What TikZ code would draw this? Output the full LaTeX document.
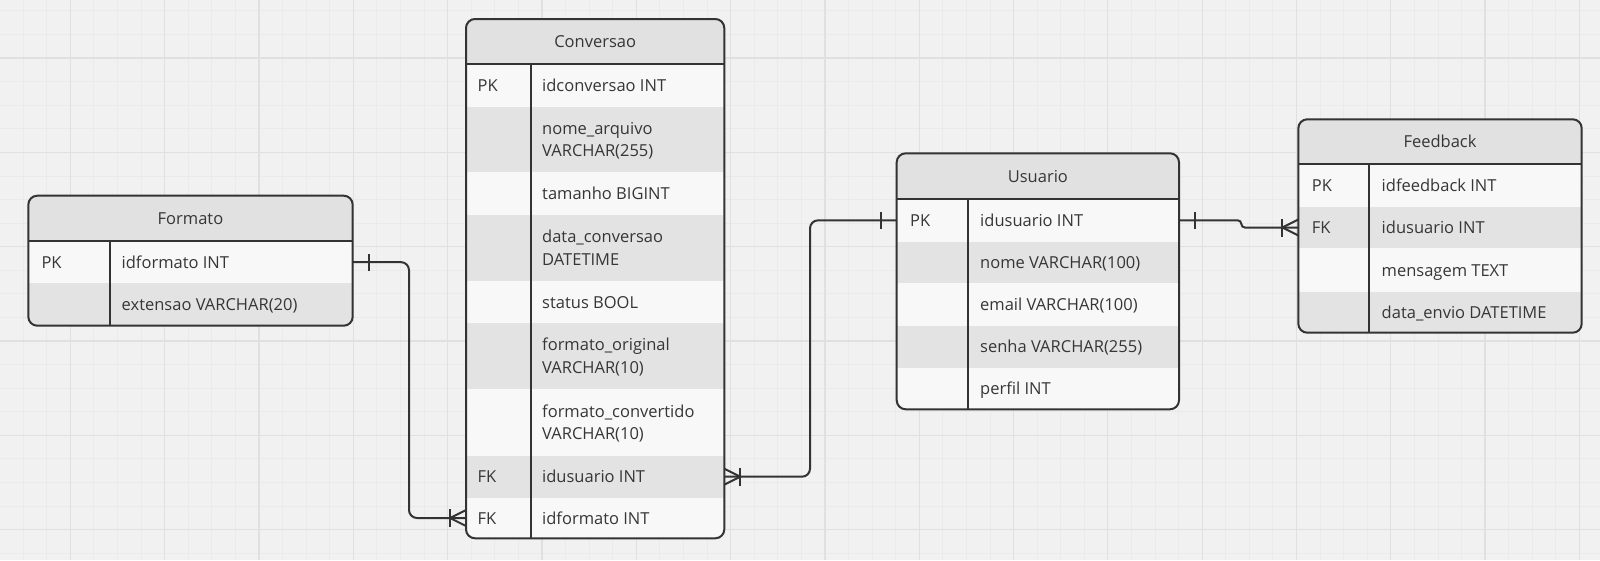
\documentclass[tikz,border=0pt]{standalone}
\usepackage{fontspec}
\setmainfont{Open Sans}
\usetikzlibrary{calc}
\definecolor{bg}{HTML}{F1F1F1}
\definecolor{gminor}{HTML}{EAEAEA}
\definecolor{gmajor}{HTML}{E0E0E0}
\definecolor{hdr}{HTML}{E1E1E1}
\definecolor{shade}{HTML}{E3E3E3}
\definecolor{rwhite}{HTML}{F8F8F8}
\definecolor{edge}{HTML}{333333}
\definecolor{ink}{HTML}{363636}
\tikzset{
  rowbox/.style={rectangle,draw=none,inner sep=0pt,outer sep=0pt,anchor=north west},
  txt/.style={anchor=west,inner sep=0pt,text height=12pt,text depth=0pt,font=\fontsize{16.5}{20}\selectfont,text=ink},
  ttl/.style={anchor=center,inner sep=0pt,text height=12pt,text depth=0pt,font=\fontsize{16.5}{20}\selectfont,text=ink},
  tline/.style={draw=edge,line width=2pt},
  tborder/.style={draw=edge,line width=2pt,rounded corners=9pt},
  conn/.style={draw=edge,line width=2pt},
  minorg/.style={draw=gminor,line width=0.8pt},
  majorg/.style={draw=gmajor,line width=1.3pt}
}
\newcommand\erow[6]{\node[rowbox,fill=#6,minimum width={#4-(#2)},minimum height={#5-(#3)}] (#1) at (#2,#3) {};}
\newcommand\etxt[4]{\node[txt] (#1) at (#2,#3) {#4};}
\begin{document}
\begin{tikzpicture}[x=1pt,y=-1pt]
\useasboundingbox (0,0) rectangle (1600,560);
\fill[bg] (0,0) rectangle (1600,560);
% grid
\foreach \i in {0,...,67} \draw[minorg] ({23.14+23.58*\i},0) -- ++(0,560);
\foreach \i in {0,...,23} \draw[minorg] (0,{10.84+23.58*\i}) -- ++(1600,0);
\foreach \i in {0,...,16} \draw[majorg] ({70.3+94.32*\i},0) -- ++(0,560);
\foreach \i in {0,...,5} \draw[majorg] (0,{58+94.32*\i}) -- ++(1600,0);

% ---------------- Formato ----------------
\begin{scope}
\clip[rounded corners=9pt] (28.3,195.7) rectangle (352.7,325.7);
\erow{fmt-h}{28.3}{195.7}{352.7}{241}{hdr}
\erow{fmt-r1}{28.3}{241}{352.7}{283.3}{rwhite}
\erow{fmt-r2}{28.3}{283.3}{352.7}{325.7}{shade}
\end{scope}
\draw[tline] (fmt-h.south west) -- (fmt-h.south east);
\draw[tline] (110,241) -- (110,325.7);
\draw[tborder] (28.3,195.7) rectangle (352.7,325.7);
\node[ttl] (fmt-t) at (fmt-h.center) {Formato};
\etxt{fmt-k1}{41.3}{262.15}{PK}
\etxt{fmt-f1}{121.5}{262.15}{idformato INT}
\etxt{fmt-f2}{121.5}{304.5}{extensao VARCHAR(20)}

% ---------------- Conversao ----------------
\begin{scope}
\clip[rounded corners=9pt] (466,19) rectangle (724.3,538.3);
\erow{conv-h}{466}{19}{724.3}{64}{hdr}
\erow{conv-r1}{466}{64}{724.3}{106.7}{rwhite}
\erow{conv-r2}{466}{106.7}{724.3}{172.3}{shade}
\erow{conv-r3}{466}{172.3}{724.3}{215}{rwhite}
\erow{conv-r4}{466}{215}{724.3}{280.7}{shade}
\erow{conv-r5}{466}{280.7}{724.3}{323.3}{rwhite}
\erow{conv-r6}{466}{323.3}{724.3}{389}{shade}
\erow{conv-r7}{466}{389}{724.3}{455.7}{rwhite}
\erow{conv-r8}{466}{455.7}{724.3}{497.7}{shade}
\erow{conv-r9}{466}{497.7}{724.3}{538.3}{rwhite}
\end{scope}
\draw[tline] (conv-h.south west) -- (conv-h.south east);
\draw[tline] (530.5,64) -- (530.5,538.3);
\draw[tborder] (466,19) rectangle (724.3,538.3);
\node[ttl] (conv-t) at (conv-h.center) {Conversao};
\etxt{conv-k1}{477.5}{85.35}{PK}
\etxt{conv-f1}{542}{85.35}{idconversao INT}
\etxt{conv-f2a}{542}{128.3}{nome\_arquivo}
\etxt{conv-f2b}{542}{150.7}{VARCHAR(255)}
\etxt{conv-f3}{542}{193.65}{tamanho BIGINT}
\etxt{conv-f4a}{542}{236.65}{data\_conversao}
\etxt{conv-f4b}{542}{259.05}{DATETIME}
\etxt{conv-f5}{542}{302}{status BOOL}
\etxt{conv-f6a}{542}{344.95}{formato\_original}
\etxt{conv-f6b}{542}{367.35}{VARCHAR(10)}
\etxt{conv-f7a}{542}{411.15}{formato\_convertido}
\etxt{conv-f7b}{542}{433.55}{VARCHAR(10)}
\etxt{conv-k8}{477.5}{476.7}{FK}
\etxt{conv-f8}{542}{476.7}{idusuario INT}
\etxt{conv-k9}{477.5}{518}{FK}
\etxt{conv-f9}{542}{518}{idformato INT}

% ---------------- Usuario ----------------
\begin{scope}
\clip[rounded corners=9pt] (896.7,153.3) rectangle (1179,409.3);
\erow{usr-h}{896.7}{153.3}{1179}{199}{hdr}
\erow{usr-r1}{896.7}{199}{1179}{241.7}{rwhite}
\erow{usr-r2}{896.7}{241.7}{1179}{283.3}{shade}
\erow{usr-r3}{896.7}{283.3}{1179}{326}{rwhite}
\erow{usr-r4}{896.7}{326}{1179}{367.7}{shade}
\erow{usr-r5}{896.7}{367.7}{1179}{409.3}{rwhite}
\end{scope}
\draw[tline] (usr-h.south west) -- (usr-h.south east);
\draw[tline] (968.3,199) -- (968.3,409.3);
\draw[tborder] (896.7,153.3) rectangle (1179,409.3);
\node[ttl] (usr-t) at (usr-h.center) {Usuario};
\etxt{usr-k1}{910}{220.35}{PK}
\etxt{usr-f1}{980}{220.35}{idusuario INT}
\etxt{usr-f2}{980}{262.5}{nome VARCHAR(100)}
\etxt{usr-f3}{980}{304.65}{email VARCHAR(100)}
\etxt{usr-f4}{980}{346.85}{senha VARCHAR(255)}
\etxt{usr-f5}{980}{388.5}{perfil INT}

% ---------------- Feedback ----------------
\begin{scope}
\clip[rounded corners=9pt] (1298.3,119.3) rectangle (1581.7,332.7);
\erow{fb-h}{1298.3}{119.3}{1581.7}{164}{hdr}
\erow{fb-r1}{1298.3}{164}{1581.7}{206.7}{rwhite}
\erow{fb-r2}{1298.3}{206.7}{1581.7}{248.3}{shade}
\erow{fb-r3}{1298.3}{248.3}{1581.7}{291.7}{rwhite}
\erow{fb-r4}{1298.3}{291.7}{1581.7}{332.7}{shade}
\end{scope}
\draw[tline] (fb-h.south west) -- (fb-h.south east);
\draw[tline] (1369,164) -- (1369,332.7);
\draw[tborder] (1298.3,119.3) rectangle (1581.7,332.7);
\node[ttl] (fb-t) at (fb-h.center) {Feedback};
\etxt{fb-k1}{1311.7}{185.35}{PK}
\etxt{fb-f1}{1381.5}{185.35}{idfeedback INT}
\etxt{fb-k2}{1311.7}{227.5}{FK}
\etxt{fb-f2}{1381.5}{227.5}{idusuario INT}
\etxt{fb-f3}{1381.5}{270}{mensagem TEXT}
\etxt{fb-f4}{1381.5}{312.2}{data\_envio DATETIME}

% ---------------- Connectors ----------------
% Formato -> Conversao
\draw[conn,rounded corners=8pt] (fmt-r1.east) -| ([xshift=-57pt]conv-r9.west) -- (conv-r9.west);
\draw[conn] ([xshift=16pt,yshift=-8.5pt]fmt-r1.east) -- ([xshift=16pt,yshift=8.5pt]fmt-r1.east);
\draw[conn] ([xshift=-16pt,yshift=-9pt]conv-r9.west) -- ([xshift=-16pt,yshift=9pt]conv-r9.west);
\draw[conn] ([yshift=8pt]conv-r9.west) -- ([xshift=-16pt]conv-r9.west) -- ([yshift=-8pt]conv-r9.west);
% Conversao -> Usuario
\draw[conn,rounded corners=8pt] (conv-r8.east) -| ([xshift=-86.7pt]usr-r1.west) -- (usr-r1.west);
\draw[conn] ([xshift=-16pt,yshift=-8.5pt]usr-r1.west) -- ([xshift=-16pt,yshift=8.5pt]usr-r1.west);
\draw[conn] ([xshift=16pt,yshift=-9pt]conv-r8.east) -- ([xshift=16pt,yshift=9pt]conv-r8.east);
\draw[conn] ([yshift=8pt]conv-r8.east) -- ([xshift=16pt]conv-r8.east) -- ([yshift=-8pt]conv-r8.east);
% Usuario -> Feedback
\draw[conn,rounded corners=3.5pt] (usr-r1.east) -| ([xshift=-57pt]fb-r2.west) -- (fb-r2.west);
\draw[conn] ([xshift=16pt,yshift=-8.5pt]usr-r1.east) -- ([xshift=16pt,yshift=8.5pt]usr-r1.east);
\draw[conn] ([xshift=-16pt,yshift=-9pt]fb-r2.west) -- ([xshift=-16pt,yshift=9pt]fb-r2.west);
\draw[conn] ([yshift=8pt]fb-r2.west) -- ([xshift=-16pt]fb-r2.west) -- ([yshift=-8pt]fb-r2.west);
\end{tikzpicture}
\end{document}
